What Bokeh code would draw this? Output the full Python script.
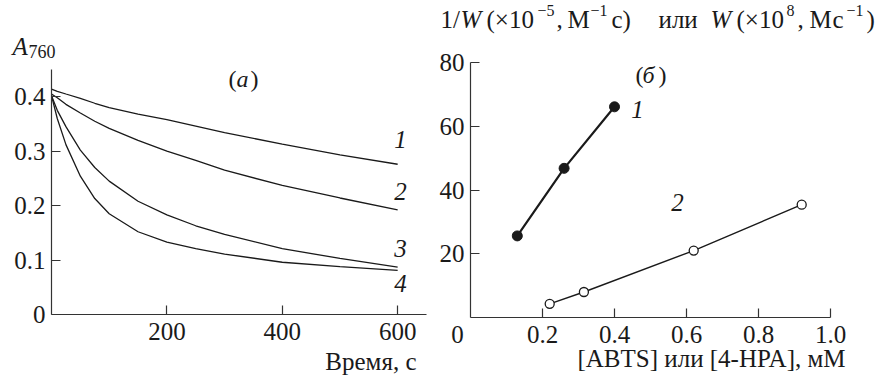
from bokeh.plotting import figure
from bokeh.layouts import row
from bokeh.models import Label, FixedTicker, Range1d
from bokeh.embed import file_html
from bokeh.resources import INLINE

# ---------------- data: panel (а) ----------------
time_s = [0, 10, 25, 50, 75, 100, 150, 200, 250, 300, 400, 500, 600]
a760_curve1 = [0.414, 0.410, 0.405, 0.397, 0.388, 0.380, 0.368, 0.358, 0.346, 0.334, 0.313, 0.293, 0.276]
a760_curve2 = [0.405, 0.398, 0.386, 0.370, 0.355, 0.342, 0.320, 0.300, 0.283, 0.265, 0.237, 0.214, 0.192]
a760_curve3 = [0.402, 0.375, 0.345, 0.302, 0.270, 0.245, 0.208, 0.183, 0.163, 0.147, 0.121, 0.103, 0.087]
a760_curve4 = [0.402, 0.360, 0.312, 0.254, 0.213, 0.185, 0.152, 0.133, 0.121, 0.111, 0.096, 0.088, 0.081]
curve_names = ["1", "2", "3", "4"]

left_xticks = [200, 400, 600]
left_yticks = [0, 0.1, 0.2, 0.3, 0.4]
left_ytick_labels = ["0", "0.1", "0.2", "0.3", "0.4"]

# ---------------- data: panel (б) ----------------
abts_mM = [0.13, 0.26, 0.40]
inv_w = [25.6, 46.8, 66.1]
hpa_mM = [0.22, 0.315, 0.62, 0.92]
w_rate = [4.3, 8.0, 21.0, 35.4]
series_names = ["1", "2"]

right_xticks = [0.2, 0.4, 0.6, 0.8, 1.0]
right_xtick_labels = ["0.2", "0.4", "0.6", "0.8", "1.0"]
right_yticks = [20, 40, 60, 80]

FONT = "Liberation Serif"
INK = "#1a1a1a"
BASELINE_FIX = 9  # px: Label baselines render this much lower than asked


def style_axes(p, xticks, yticks, xbounds, ybounds, xlabels=None, ylabels=None):
    for ax, ticks, labels, bnd in ((p.xaxis[0], xticks, xlabels, xbounds),
                                   (p.yaxis[0], yticks, ylabels, ybounds)):
        ax.ticker = FixedTicker(ticks=ticks)
        ax.fixed_location = 0
        ax.bounds = bnd
        ax.major_tick_in = 9
        ax.major_tick_out = 0
        ax.minor_tick_line_color = None
        ax.axis_line_color = "#333333"
        ax.axis_line_width = 1.2
        ax.major_tick_line_color = "#333333"
        ax.major_tick_line_width = 1.2
        ax.major_label_text_font = FONT
        ax.major_label_text_font_size = "25px"
        ax.major_label_text_color = INK
        if labels is not None:
            ax.major_label_overrides = {t: l for t, l in zip(ticks, labels)}
    p.xaxis[0].major_label_standoff = 8
    p.yaxis[0].major_label_standoff = 6
    p.grid.visible = False
    p.outline_line_color = None
    p.background_fill_color = "white"
    p.border_fill_color = "white"


# pixel -> data helpers (layout only)
def lx(px):
    return (px - 51) * 650 / 375


def ly(py):
    return (314 - py) * 0.45 / 245


def rx(px):
    return (px - 470) / 360


def ry(py):
    return (317 - py) * 80 / 255


def add_text(p, fx, fy, px, py, text, size="25px", italic=False, align="left"):
    p.add_layout(Label(x=fx(px), y=fy(py - BASELINE_FIX), text=text, text_font=FONT,
                       text_font_size=size,
                       text_font_style="italic" if italic else "normal",
                       text_color=INK, text_align=align, text_baseline="alphabetic"))


# ---------------- panel (а) ----------------
p1 = figure(width=428, height=380, x_range=Range1d(lx(0), lx(428)), y_range=Range1d(ly(380), ly(0)),
            output_backend="svg", toolbar_location=None,
            min_border_left=0, min_border_right=0, min_border_top=0, min_border_bottom=0)
style_axes(p1, left_xticks, left_yticks, (0, 650), (0, 0.45), None, left_ytick_labels)

for ys in (a760_curve1, a760_curve2, a760_curve3, a760_curve4):
    p1.line(time_s, ys, line_color=INK, line_width=1.3)

label_baselines = [148, 200, 257, 292]
for name, b in zip(curve_names, label_baselines):
    add_text(p1, lx, ly, 400, b, name, italic=True, align="center")

add_text(p1, lx, ly, 12, 55, "A", size="25px", italic=True)
add_text(p1, lx, ly, 28, 60, "760", size="18px")
add_text(p1, lx, ly, 228, 87, "(", size="24px")
add_text(p1, lx, ly, 236, 87, "а", size="24px", italic=True)
add_text(p1, lx, ly, 250, 87, ")", size="24px")
add_text(p1, lx, ly, 416, 370, "Время, с", size="25px", align="right")

# ---------------- panel (б) ----------------
p2 = figure(width=450, height=380, x_range=Range1d(rx(428), rx(878)), y_range=Range1d(ry(380), ry(0)),
            output_backend="svg", toolbar_location=None,
            min_border_left=0, min_border_right=0, min_border_top=0, min_border_bottom=0)
style_axes(p2, right_xticks, right_yticks, (0, 1.0), (0, 80), right_xtick_labels, None)

p2.line(abts_mM, inv_w, line_color=INK, line_width=2.2)
p2.scatter(abts_mM, inv_w, size=10, fill_color=INK, line_color=INK)
p2.line(hpa_mM, w_rate, line_color=INK, line_width=1.4)
p2.scatter(hpa_mM, w_rate, size=9, fill_color="white", line_color=INK, line_width=1.3)

add_text(p2, rx, ry, 637, 118, series_names[0], italic=True, align="center")
add_text(p2, rx, ry, 677, 211, series_names[1], italic=True, align="center")
add_text(p2, rx, ry, 635, 83, "(", size="24px")
add_text(p2, rx, ry, 642, 83, "б", size="24px", italic=True)
add_text(p2, rx, ry, 658, 83, ")", size="24px")
add_text(p2, rx, ry, 457, 343, "0", align="center")
add_text(p2, rx, ry, 845, 367, "[ABTS] или [4-HPA], мМ", size="25px", align="right")

# title pieces: (text, px start, italic, superscript)
title_pieces = [
    ("1/", 440, False, False), ("W", 460, True, False), ("(×10", 486, False, False),
    ("−5", 537, False, True), (",", 556, False, False), ("M", 567, False, False),
    ("−1", 590, False, True), ("c)", 611, False, False), ("или", 658, False, False),
    ("W", 710, True, False), ("(×10", 736, False, False), ("8", 786, False, True),
    (",", 797, False, False), ("M", 809, False, False), ("c", 832, False, False),
    ("−1", 846, False, True), (")", 866, False, False),
]
for txt, px, it, sup in title_pieces:
    if sup:
        add_text(p2, rx, ry, px, 19, txt, size="16px", italic=it)
    else:
        add_text(p2, rx, ry, px, 28, txt, size="25px", italic=it)

layout = row(p1, p2)
open("out.html", "w").write(file_html(layout, INLINE))
